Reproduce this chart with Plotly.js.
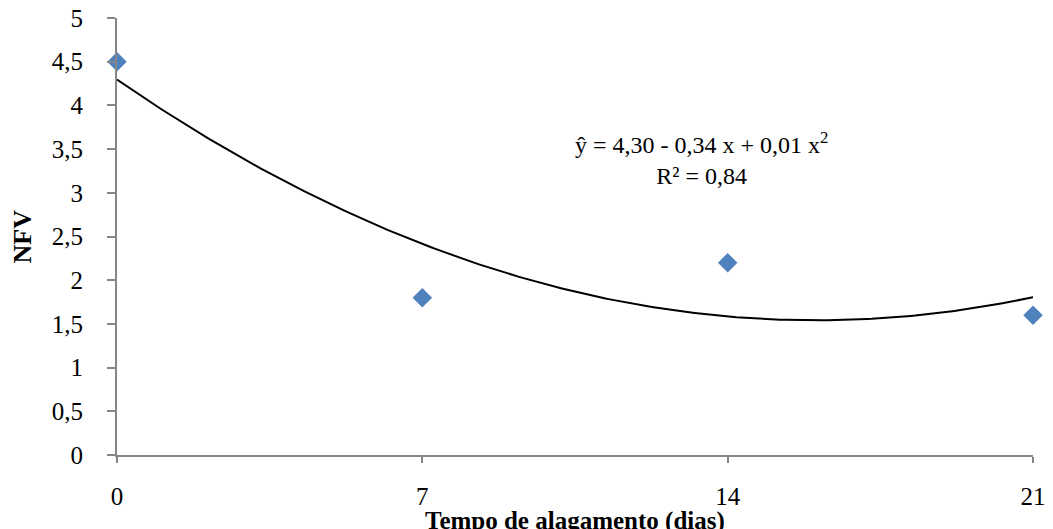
<!DOCTYPE html>
<html>
<head>
<meta charset="utf-8">
<script src="https://cdn.plot.ly/plotly-3.0.1.min.js"></script>
<style>html,body{margin:0;padding:0;background:#fff;}#chart{width:1053px;height:529px;}</style>
</head>
<body>
<div id="chart"></div>
<script>
const days = [0, 7, 14, 21];
const nfv = [4.5, 1.8, 2.2, 1.6];
const fitCoef = [4.295, -0.34357, 0.010714];
const yTicks = [0, 0.5, 1, 1.5, 2, 2.5, 3, 3.5, 4, 4.5, 5];
const yTickText = ['0', '0,5', '1', '1,5', '2', '2,5', '3', '3,5', '4', '4,5', '5'];
const xTicks = [0, 7, 14, 21];
const eqText = 'ŷ = 4,30 - 0,34 x + 0,01 x<sup>2</sup><br>R² = 0,84';
const xTitle = '<b>Tempo de alagamento (dias)</b>';
const yTitle = '<b>NFV</b>';

const fx = [], fy = [];
for (let i = 0; i <= 210; i++) {
  const x = i / 10;
  fx.push(x);
  fy.push(fitCoef[0] + fitCoef[1] * x + fitCoef[2] * x * x);
}
const font = 'Liberation Serif';
Plotly.newPlot('chart', [
  {x: fx, y: fy, mode: 'lines', line: {color: '#000', width: 2}, hoverinfo: 'skip', showlegend: false},
  {x: days, y: nfv, mode: 'markers', marker: {symbol: 'diamond', size: 15, color: '#4F81BD'}, showlegend: false, cliponaxis: false}
], {
  width: 1053, height: 529,
  margin: {l: 117, r: 20, t: 18, b: 74},
  paper_bgcolor: '#fff', plot_bgcolor: '#fff',
  font: {family: font, size: 24, color: '#000'},
  xaxis: {
    range: [0, 21], tickvals: xTicks, ticktext: xTicks.map(String),
    showgrid: false, zeroline: false, showline: true, linecolor: '#868686', linewidth: 2,
    ticks: 'outside', ticklen: 6, tickcolor: '#868686', tickwidth: 2, ticklabelstandoff: 12,
    tickfont: {family: font, size: 25, color: '#000'}
  },
  yaxis: {
    range: [0, 5], tickvals: yTicks, ticktext: yTickText,
    showgrid: false, zeroline: false, showline: true, linecolor: '#868686', linewidth: 2,
    ticks: 'outside', ticklen: 8, tickcolor: '#868686', tickwidth: 2, ticklabelstandoff: 19,
    tickfont: {family: font, size: 25, color: '#000'}
  },
  annotations: [
    {x: 13.4, y: 3.392, xref: 'x', yref: 'y', text: eqText, showarrow: false, align: 'center',
     font: {family: font, size: 24, color: '#000'}},
    {x: 0.5, y: -0.152, xref: 'paper', yref: 'paper', yanchor: 'middle', text: xTitle, showarrow: false,
     font: {family: font, size: 25, color: '#000'}},
    {x: -0.1037, y: 0.5, xref: 'paper', yref: 'paper', xanchor: 'center', yanchor: 'middle', textangle: -90,
     text: yTitle, showarrow: false, font: {family: font, size: 26, color: '#000'}}
  ]
}, {displayModeBar: false, staticPlot: true});
</script>
</body>
</html>
